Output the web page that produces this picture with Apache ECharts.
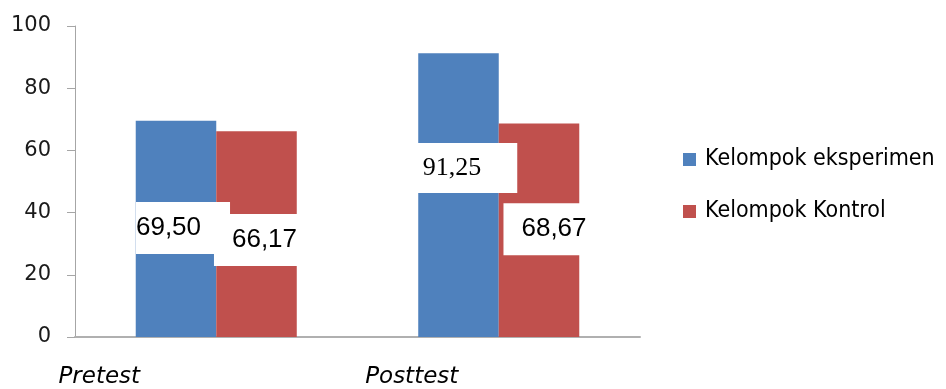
<!DOCTYPE html>
<html>
<head>
<meta charset="utf-8">
<script src="https://cdn.jsdelivr.net/npm/echarts@6/dist/echarts.min.js"></script>
<style>
html, body { margin: 0; padding: 0; background: #fff; }
#bar_chart { width: 946px; height: 389px; }
</style>
</head>
<body>
<div id="bar_chart"></div>
<script>
var categories = ['Pretest', 'Posttest'];
var eksperimen = [69.50, 91.25];
var kontrol = [66.17, 68.67];
var seriesNames = ['Kelompok eksperimen', 'Kelompok Kontrol'];

function fmt(v) {
	return v.toFixed(2).replace('.', ',');
}

function bar_chart() {
	var chart = echarts.init(document.getElementById('bar_chart'));
	// label boxes sit on the bars, shifted like the original picture
	var blueOffsets = [[7, -1], [9, -27]];
	var redOffsets = [[8, 6], [15, -1]];
	var labelBase = {
		show: true,
		position: 'inside',
		color: '#000',
		fontSize: 26,
		fontFamily: 'Liberation Sans',
		backgroundColor: '#fff',
		padding: [13, 18, 13, 18],
		formatter: function (p) { return fmt(p.value); }
	};
	chart.setOption({
		animation: false,
		grid: {
			left: 75,
			right: 306,
			top: 26,
			bottom: 50
		},
		legend: {
			orient: 'vertical',
			left: 683,
			top: 148,
			padding: 0,
			itemWidth: 13,
			itemHeight: 13,
			itemGap: 29,
			icon: 'rect',
			textStyle: {
				fontSize: 23,
				fontFamily: 'DejaVu Sans Condensed, DejaVu Sans',
				color: '#000',
				padding: [0, 0, 0, 4]
			},
			data: seriesNames
		},
		xAxis: {
			type: 'category',
			data: categories,
			axisLine: { lineStyle: { color: '#b0b0b0', width: 2 } },
			axisTick: { show: false },
			axisLabel: {
				margin: 29,
				formatter: function (v, i) {
					return i === 0 ? '{a|' + v + '}' : '{b|' + v + '}';
				},
				rich: {
					a: {
						fontSize: 23, fontStyle: 'italic', fontFamily: 'DejaVu Sans',
						color: '#000', padding: [0, 234, 0, 0]
					},
					b: {
						fontSize: 23, fontStyle: 'italic', fontFamily: 'DejaVu Sans',
						color: '#000', padding: [0, 174, 0, 0]
					}
				}
			}
		},
		yAxis: {
			type: 'value',
			min: 0,
			max: 100,
			interval: 20,
			axisLine: { show: true, lineStyle: { color: '#a6a6a6' } },
			axisTick: { show: true, length: 8, lineStyle: { color: '#a6a6a6' } },
			splitLine: { show: false },
			axisLabel: {
				margin: 24,
				fontSize: 21,
				fontFamily: 'DejaVu Sans',
				color: '#1a1a1a'
			}
		},
		series: [{
			name: seriesNames[0],
			type: 'bar',
			barGap: '0%',
			barCategoryGap: '43%',
			itemStyle: { color: '#4F81BD' },
			data: eksperimen.map(function (v, i) {
				var lab = Object.assign({}, labelBase, { offset: blueOffsets[i] });
				if (i === 1) {
					lab.fontFamily = 'Liberation Serif';
					lab.padding = [12, 36, 12, 5];
				} else {
					lab.padding = [13, 29, 13, 0];
				}
				return { value: v, label: lab };
			})
		}, {
			name: seriesNames[1],
			type: 'bar',
			itemStyle: { color: '#C0504D' },
			data: kontrol.map(function (v, i) {
				return { value: v, label: Object.assign({}, labelBase, { offset: redOffsets[i] }) };
			})
		}]
	});
}
bar_chart();
</script>
</body>
</html>
